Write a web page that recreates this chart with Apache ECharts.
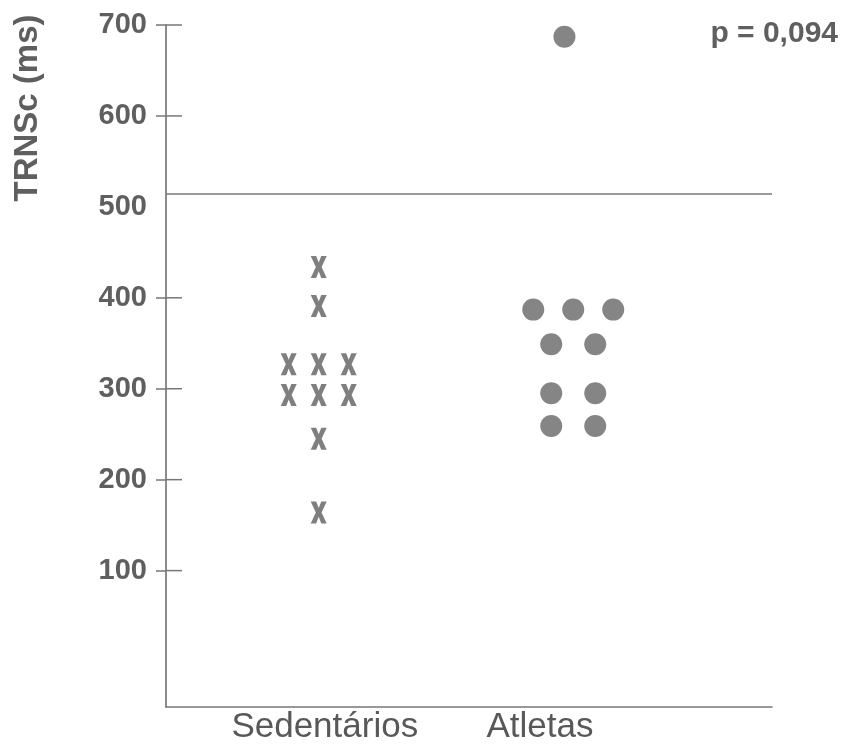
<!DOCTYPE html>
<html>
<head>
<meta charset="utf-8">
<script src="https://cdn.jsdelivr.net/npm/echarts@6/dist/echarts.min.js"></script>
<style>
  html, body { margin: 0; padding: 0; background: #fff; }
  #chart { width: 842px; height: 747px; }
</style>
</head>
<body>
<div id="chart"></div>
<script>
// Group names and the values (ms) of each subject
const groups = ['Sedentários', 'Atletas'];
const sedValues = [434, 391, 327, 327, 327, 293, 293, 293, 245, 164];
const atlValues = [687, 387, 387, 387, 349, 349, 295, 295, 259, 259];
// Horizontal slot of each point inside its group column (dot-plot stacking)
const sedSlots = [0, 0, -1, 0, 1, -1, 0, 1, 0, 0];
const atlSlots = [-0.22, -1, 0, 1, -0.55, 0.55, -0.55, 0.55, -0.55, 0.55];
const yTicks = [100, 200, 300, 400, 500, 600, 700];
const yTickMarks = [100, 200, 300, 400, 600, 700];
const cutoff = 514;
const pText = 'p = 0,094';

// Layout of the group columns along the x scale
const groupCenter = [2.52, 6.72];
const slotWidth = [0.495, 0.66];
const labelPos = [2.62, 6.17];
const tickInnerPx = 16; // inner part of the crossing y ticks

const sedData = sedValues.map((v, i) => [groupCenter[0] + sedSlots[i] * slotWidth[0], v]);
const atlData = atlValues.map((v, i) => [groupCenter[1] + atlSlots[i] * slotWidth[1], v]);

const ink = '#5f5f5f';
const lineCol = '#777';
const font = '"Liberation Sans", Arial, sans-serif';
// Heavy "X" glyph used for the sedentary group
const crossPath = 'path://M0,0 L3.4,0 L5,3 L6.6,0 L10,0 L6.8,5 L10,10 L6.6,10 L5,7 L3.4,10 L0,10 L3.2,5 Z';

const chart = echarts.init(document.getElementById('chart'), null, { renderer: 'canvas' });
chart.setOption({
  animation: false,
  backgroundColor: '#ffffff',
  grid: { left: 166, right: 70, top: 25, bottom: 40 },
  xAxis: {
    type: 'value', min: 0, max: 10,
    splitLine: { show: false },
    axisTick: { show: false },
    axisLine: { show: true, onZero: false, lineStyle: { color: lineCol, width: 1.5 } },
    axisLabel: {
      customValues: labelPos,
      formatter: v => groups[labelPos.indexOf(v)] || '',
      color: '#585858', fontFamily: font, fontSize: 35, margin: 3
    }
  },
  yAxis: {
    type: 'value', min: -50, max: 700, position: 'left',
    splitLine: { show: false },
    axisLine: { show: true, onZero: false, lineStyle: { color: '#666', width: 1.5 } },
    axisTick: { show: true, customValues: yTickMarks, length: 10, lineStyle: { color: lineCol, width: 1.5 } },
    axisLabel: {
      customValues: yTicks,
      color: ink, fontFamily: font, fontWeight: 'bold', fontSize: 29, margin: 19
    }
  },
  graphic: [{
    type: 'text',
    x: 28, y: 108, rotation: Math.PI / 2,
    style: {
      text: 'TRNSc (ms)', fill: ink, font: 'bold 33px ' + font,
      textAlign: 'center', textVerticalAlign: 'middle'
    }
  }, {
    type: 'text',
    right: 4, top: 19,
    style: { text: pText, fill: ink, font: 'bold 30px ' + font }
  }],
  series: [{
    name: groups[0], type: 'scatter', data: sedData,
    symbol: crossPath, symbolSize: [16, 22],
    itemStyle: { color: ink },
    markLine: {
      silent: true, symbol: 'none', label: { show: false },
      lineStyle: { color: lineCol, width: 1.5, type: 'solid' },
      data: [{ yAxis: cutoff }]
    }
  }, {
    name: groups[1], type: 'scatter', data: atlData,
    symbol: 'circle', symbolSize: 22,
    itemStyle: { color: '#666' }
  }, {
    // inner halves of the y ticks, so each tick crosses the axis line
    type: 'custom', silent: true, clip: false,
    data: yTickMarks.map(v => [0, v]),
    encode: { x: 0, y: 1 },
    renderItem: (params, api) => {
      const p = api.coord([api.value(0), api.value(1)]);
      return {
        type: 'line',
        shape: { x1: p[0], y1: p[1], x2: p[0] + tickInnerPx, y2: p[1] },
        style: { stroke: lineCol, lineWidth: 1.5 }
      };
    }
  }]
});
</script>
</body>
</html>
